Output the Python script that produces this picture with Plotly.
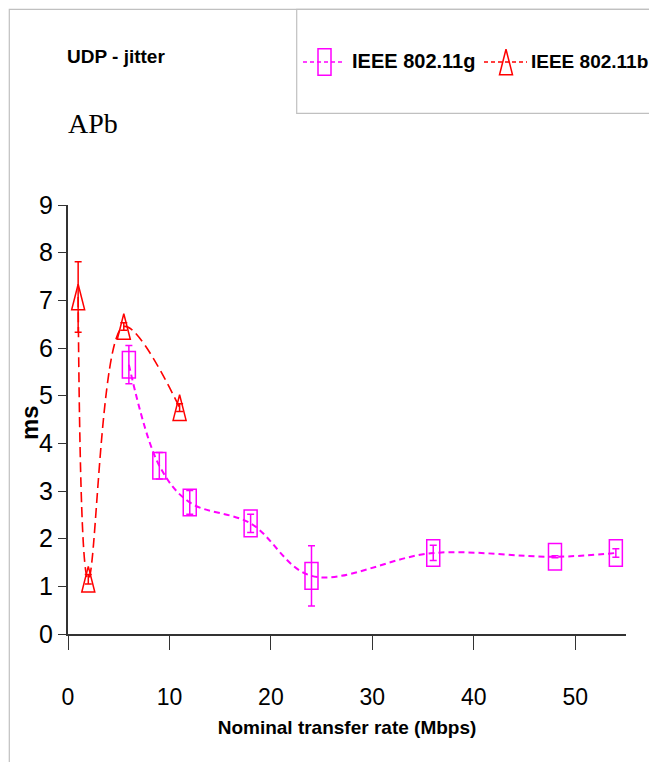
import plotly.graph_objects as go

# ---------------- data ----------------
g_name = "IEEE 802.11g"
g_x = [6, 9, 12, 18, 24, 36, 48, 54]
g_y = [5.65, 3.53, 2.76, 2.32, 1.22, 1.70, 1.62, 1.70]
g_err = [0.40, 0.28, 0.25, 0.19, 0.63, 0.16, 0.02, 0.09]

b_name = "IEEE 802.11b"
b_x = [1, 2, 5.5, 11]
b_y = [7.07, 1.15, 6.45, 4.75]
b_err = [0.74, 0.10, 0.08, 0.08]

x_ticks = [0, 10, 20, 30, 40, 50]
y_ticks = [0, 1, 2, 3, 4, 5, 6, 7, 8, 9]

title_text = "UDP - jitter"
subtitle_text = "APb"
x_title = "Nominal transfer rate (Mbps)"
y_title = "ms"

# ---------------- style ----------------
W, H = 649, 762
ML, MR, MT, MB = 68, 23, 205, 128
PW, PH = W - ML - MR, H - MT - MB
MAG = "#FF00FF"
RED = "#FF0000"
SANS = "Liberation Sans, Arial, sans-serif"
SERIF = "Liberation Serif, Times New Roman, serif"
GRID = "#C0C0C0"


def px_x(px):
    return (px - ML) / PW


def px_y(py):
    return (H - MB - py) / PH


def rect_marker(x, y, color, xref="x", yref="y"):
    return dict(type="rect", xref=xref, yref=yref, xsizemode="pixel", ysizemode="pixel",
                xanchor=x, yanchor=y, x0=-6.5, x1=6.5, y0=-13.3, y1=13.3,
                line=dict(color=color, width=1.5), fillcolor="rgba(0,0,0,0)", layer="above")


def tri_marker(x, y, color, xref="x", yref="y"):
    return dict(type="path", xref=xref, yref=yref, xsizemode="pixel", ysizemode="pixel",
                xanchor=x, yanchor=y, path="M -6.5,-12.8 L 6.5,-12.8 L 0,12.8 Z",
                line=dict(color=color, width=1.5), fillcolor="rgba(0,0,0,0)", layer="above")


fig = go.Figure()

fig.add_trace(go.Scatter(
    x=g_x, y=g_y, name=g_name, mode="lines",
    line=dict(color=MAG, width=2, dash="6px,4px", shape="spline", smoothing=1),
    error_y=dict(type="data", array=g_err, visible=True, color=MAG, thickness=1.5, width=3.5),
    showlegend=False,
))
fig.add_trace(go.Scatter(
    x=b_x, y=b_y, name=b_name, mode="lines",
    line=dict(color=RED, width=1.6, dash="10px,5px", shape="spline", smoothing=1),
    error_y=dict(type="data", array=b_err, visible=True, color=RED, thickness=1.5, width=3.5),
    showlegend=False,
))

shapes = []
for xv, yv in zip(g_x, g_y):
    shapes.append(rect_marker(xv, yv, MAG))
for xv, yv in zip(b_x, b_y):
    shapes.append(tri_marker(xv, yv, RED))

# chart frame and legend box
shapes.append(dict(type="rect", xref="paper", yref="paper",
                   x0=px_x(9.3), x1=px_x(W + 50), y0=px_y(H + 50), y1=px_y(9.3),
                   line=dict(color=GRID, width=1.2), layer="below"))
shapes.append(dict(type="rect", xref="paper", yref="paper",
                   x0=px_x(296.7), x1=px_x(W + 50), y0=px_y(113.3), y1=px_y(9.3),
                   line=dict(color=GRID, width=1.2), layer="below"))

# legend samples
leg_y = px_y(62)
shapes.append(dict(type="line", xref="paper", yref="paper", x0=px_x(303), x1=px_x(345),
                   y0=leg_y, y1=leg_y, line=dict(color=MAG, width=1.5, dash="4px,3px")))
shapes.append(rect_marker(px_x(324.5), leg_y, MAG, "paper", "paper"))
shapes.append(dict(type="line", xref="paper", yref="paper", x0=px_x(484), x1=px_x(527),
                   y0=leg_y, y1=leg_y, line=dict(color=RED, width=1.5, dash="4px,3px")))
shapes.append(tri_marker(px_x(506), leg_y, RED, "paper", "paper"))

annotations = [
    dict(text=g_name, xref="paper", yref="paper", x=px_x(350), y=px_y(61), xanchor="left",
         yanchor="middle", showarrow=False, font=dict(family=SANS, size=20, color="black", weight="bold")),
    dict(text=b_name, xref="paper", yref="paper", x=px_x(529), y=px_y(61), xanchor="left",
         yanchor="middle", showarrow=False, font=dict(family=SANS, size=19, color="black", weight="bold")),
    dict(text=title_text, xref="paper", yref="paper", x=px_x(65), y=px_y(57), xanchor="left",
         yanchor="middle", showarrow=False, font=dict(family=SANS, size=19, color="black", weight="bold")),
    dict(text=subtitle_text, xref="paper", yref="paper", x=px_x(66), y=px_y(123), xanchor="left",
         yanchor="middle", showarrow=False, font=dict(family=SERIF, size=28, color="black")),
    dict(text=y_title, xref="paper", yref="paper", x=px_x(29), y=px_y(423), xanchor="center",
         yanchor="middle", textangle=-90, showarrow=False,
         font=dict(family=SANS, size=24, color="black", weight="bold")),
]

fig.update_layout(
    width=W, height=H,
    margin=dict(l=ML, r=MR, t=MT, b=MB, pad=0, autoexpand=False),
    paper_bgcolor="white", plot_bgcolor="white",
    shapes=shapes, annotations=annotations,
    showlegend=False,
    xaxis=dict(range=[0, 55], tickvals=x_ticks, ticks="outside", ticklen=14, tickwidth=1,
               tickcolor="#333", showline=True, linecolor="#333", linewidth=2,
               showgrid=False, zeroline=False, automargin=False,
               tickfont=dict(family=SANS, size=23, color="black"), ticklabelstandoff=27,
               title=dict(text=x_title, font=dict(family=SANS, size=19, color="black", weight="bold"),
                          standoff=12)),
    yaxis=dict(range=[0, 9], tickvals=y_ticks, ticks="outside", ticklen=8, tickwidth=1,
               tickcolor="#333", showline=True, linecolor="#333", linewidth=2,
               showgrid=False, zeroline=False, automargin=False,
               tickfont=dict(family=SANS, size=25, color="black"), ticklabelstandoff=0),
)

fig.write_html("out.html")
